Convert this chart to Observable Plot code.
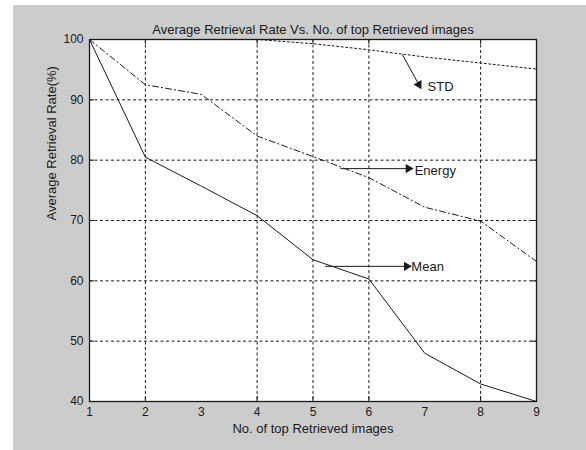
<!DOCTYPE html>
<html>
<head>
<meta charset="utf-8">
<script src="https://cdn.jsdelivr.net/npm/d3@7"></script>
<script src="https://cdn.jsdelivr.net/npm/@observablehq/plot@0.6"></script>
<style>
  html, body { margin: 0; padding: 0; background: #ffffff; }
  #wrap { position: relative; width: 586px; height: 450px; overflow: hidden; }
  #fig { position: absolute; left: 13px; top: 5px; right: 0; bottom: 0; background: #cccccc; }
  #chart { position: absolute; left: 0; top: 0; }
</style>
</head>
<body>
<div id="wrap"><div id="fig"></div><div id="chart"></div></div>
<script>
// ---- data ----
const nImages = [1, 2, 3, 4, 5, 6, 7, 8, 9];
const meanRate   = [100, 80.5, 75.7, 70.8, 63.5, 60.3, 48.0, 42.9, 40.0];
const energyRate = [100, 92.5, 90.9, 84.0, 80.6, 77.1, 72.2, 69.9, 63.2];
const stdRate    = [100, 100, 100, 100, 99.3, 98.3, 97.1, 96.1, 95.1];

const xTickLabels = [1, 2, 3, 4, 5, 6, 7, 8, 9];
const yTickLabels = [40, 50, 60, 70, 80, 90, 100];
const xGridTicks = [2, 4, 5, 6, 8];
const yGridTicks = [50, 60, 70, 80, 90];

const titleText = "Average Retrieval Rate Vs. No. of top Retrieved images";
const xLabelText = "No. of top Retrieved images";
const yLabelText = "Average Retrieval Rate(%)";

// annotations (arrow from line to label)
const annLabels = ["STD", "Energy", "Mean"];
const annX1 = [6.60, 5.49, 5.22];
const annY1 = [97.5, 78.6, 62.4];
const annX2 = [6.92, 6.76, 6.73];
const annY2 = [92.1, 78.6, 62.4];
const annTextX = [7.05, 6.82, 6.76];
const annTextY = [92.2, 78.3, 62.3];

// ---- build ----
const W = 586, H = 450, mL = 89, mR = 50, mT = 39, mB = 49;
const plotW = W - mL - mR, plotH = H - mT - mB;
const xDomain = [1, 9], yDomain = [40, 100];

const sx = d3.scaleLinear(xDomain, [mL, W - mR]);
const sy = d3.scaleLinear(yDomain, [H - mB, mT]);

const series = (vals) => nImages.map((x, i) => ({x, y: vals[i]}));
const headBack = 3; // px: centroid of head sits behind the tip
const ann = annLabels.map((t, i) => {
  const px1 = sx(annX1[i]), py1 = sy(annY1[i]), px2 = sx(annX2[i]), py2 = sy(annY2[i]);
  const ang = Math.atan2(px2 - px1, -(py2 - py1)) * 180 / Math.PI; // clockwise from north
  const len = Math.hypot(px2 - px1, py2 - py1);
  const ux = (px2 - px1) / len, uy = (py2 - py1) / len;
  return {t, x1: annX1[i], y1: annY1[i], x2: annX2[i], y2: annY2[i], tx: annTextX[i], ty: annTextY[i],
          ang, hx: sx.invert(px2 - ux * headBack), hy: sy.invert(py2 - uy * headBack)};
});

const ink = "#1a1a1a";
const gridDash = "3,2.5";
const tick = 5;

const chart = Plot.plot({
  width: W, height: H,
  marginLeft: mL, marginRight: mR, marginTop: mT, marginBottom: mB,
  x: {domain: xDomain},
  y: {domain: yDomain},
  style: {background: "transparent", fontFamily: "'Liberation Sans', Arial, sans-serif", fontSize: "12px", color: ink, overflow: "visible"},
  marks: [
    Plot.frame({fill: "white", stroke: null}),
    Plot.ruleX(xGridTicks, {x: d => d, stroke: ink, strokeWidth: 1, strokeDasharray: gridDash}),
    Plot.ruleY(yGridTicks, {y: d => d, stroke: ink, strokeWidth: 1, strokeDasharray: gridDash}),
    // inward ticks
    Plot.ruleX(xGridTicks, {x: d => d, stroke: ink, insetTop: plotH - tick}),
    Plot.ruleX(xGridTicks, {x: d => d, stroke: ink, insetBottom: plotH - tick}),
    Plot.ruleY(yGridTicks, {y: d => d, stroke: ink, insetRight: plotW - tick}),
    Plot.ruleY(yGridTicks, {y: d => d, stroke: ink, insetLeft: plotW - tick}),
    // series
    Plot.line(series(meanRate), {x: "x", y: "y", stroke: ink, strokeWidth: 1}),
    Plot.line(series(energyRate), {x: "x", y: "y", stroke: ink, strokeWidth: 1, strokeDasharray: "6,3,1.2,3"}),
    Plot.line(series(stdRate), {x: "x", y: "y", stroke: ink, strokeWidth: 1, strokeDasharray: "2,2.5"}),
    // annotations
    Plot.link(ann, {x1: "x1", y1: "y1", x2: "hx", y2: "hy", stroke: ink, strokeWidth: 1}),
    Plot.dot(ann, {x: "hx", y: "hy", symbol: "triangle", r: 3.4, fill: ink, stroke: null, rotate: "ang"}),
    Plot.text(ann, {x: "tx", y: "ty", text: "t", textAnchor: "start", fontSize: 13, fill: ink}),
    Plot.frame({stroke: ink, strokeWidth: 1.3}),
    Plot.axisX(xTickLabels, {tickSize: 0, tickPadding: 6, label: null, fontSize: 12}),
    Plot.axisY(yTickLabels, {tickSize: 0, tickPadding: 6, label: null, fontSize: 12}),
    Plot.text([titleText], {frameAnchor: "top", dy: -15, text: d => d, fontSize: 13, fill: ink}),
    Plot.text([xLabelText], {frameAnchor: "bottom", dy: 31, text: d => d, fontSize: 13, fill: ink}),
    Plot.text([yLabelText], {frameAnchor: "left", dx: -38, rotate: -90, text: d => d, fontSize: 13, fill: ink})
  ]
});
document.getElementById("chart").appendChild(chart);
</script>
</body>
</html>
